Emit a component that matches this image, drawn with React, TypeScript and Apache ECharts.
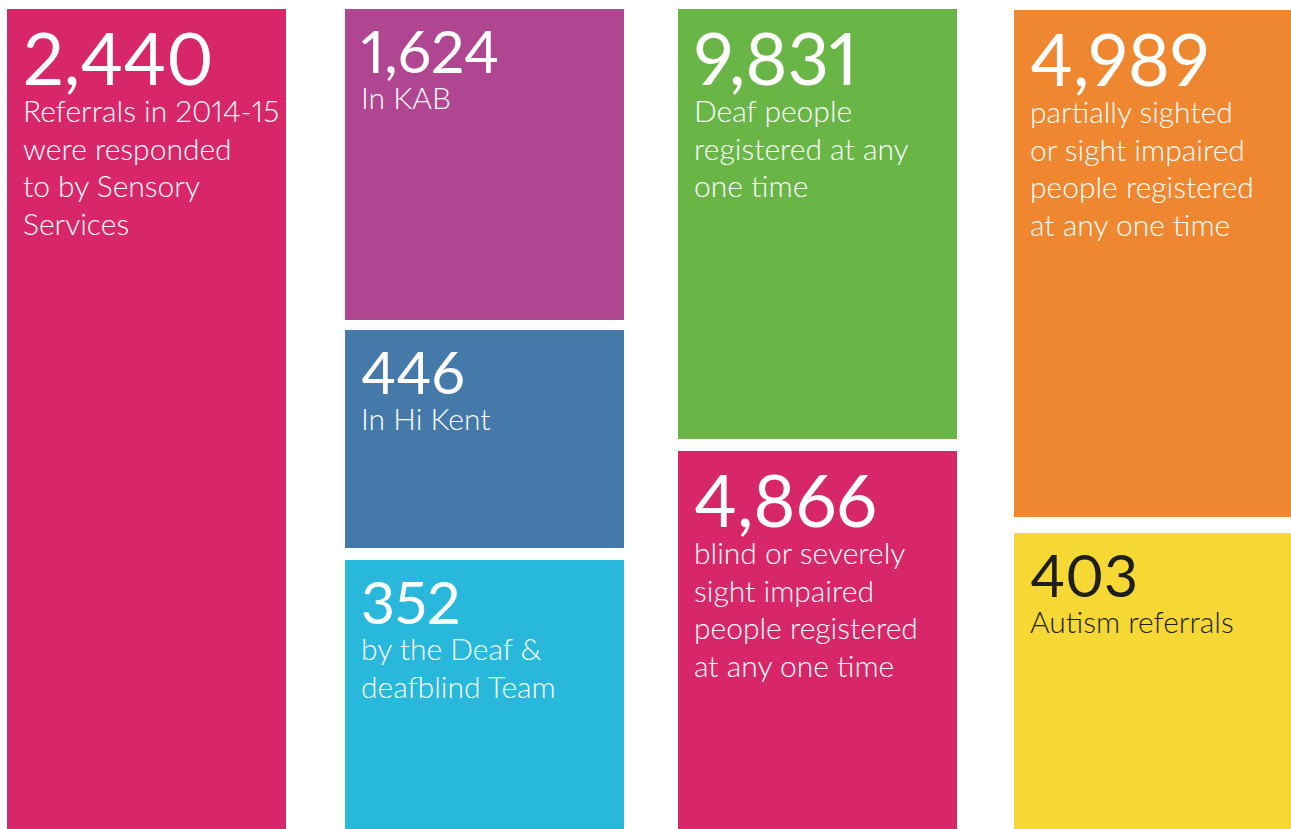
import React, { useEffect, useRef } from "react";
import * as echarts from "echarts";

// ---- data ----
const numbers = ["2,440", "1,624", "446", "352", "9,831", "4,866", "4,989", "403"];
const captions: string[][] = [
  ["Referrals in 2014-15", "were responded", "to by Sensory", "Services"],
  ["In KAB"],
  ["In Hi Kent"],
  ["by the Deaf &", "deafblind Team"],
  ["Deaf people", "registered at any", "one time"],
  ["blind or severely", "sight impaired", "people registered", "at any one time"],
  ["partially sighted", "or sight impaired", "people registered", "at any one time"],
  ["Autism referrals"],
];

// ---- layout (page units) ----
const colLeft = [7, 345, 678, 1014];
const colRight = [286, 624, 957, 1291];
const tileCol = [0, 1, 1, 1, 2, 2, 3, 3];
const tileTop = [9, 9, 330, 560, 9, 451, 10, 533];
const tileBottom = [829, 320, 548, 829, 439, 829, 517, 829];

// ---- styles ----
const tileColors = ["#D82768", "#B04591", "#4479AA", "#27B8DC", "#69B647", "#D82768", "#EF8730", "#F5D833"];
const textColors = ["#fff", "#fff", "#fff", "#fff", "#fff", "#fff", "#fff", "#1E1E1E"];
const FONT = "Lato, 'Open Sans', sans-serif";

export default function App() {
  const ref = useRef<HTMLDivElement>(null);
  useEffect(() => {
    if (!ref.current) return;
    const chart = echarts.init(ref.current, undefined, { renderer: "svg" });
    const data = numbers.map((_, i) => [
      colLeft[tileCol[i]],
      tileTop[i],
      colRight[tileCol[i]],
      tileBottom[i],
      i,
    ]);
    chart.setOption({
      animation: false,
      grid: { left: 0, right: 0, top: 0, bottom: 0 },
      xAxis: { type: "value", min: 0, max: 1291, show: false },
      yAxis: { type: "value", min: 0, max: 829, inverse: true, show: false },
      series: [
        {
          type: "custom",
          silent: true,
          data,
          renderItem: (params: any, api: any) => {
            const p0 = api.coord([api.value(0), api.value(1)]);
            const p1 = api.coord([api.value(2), api.value(3)]);
            const i = api.value(4);
            const h = p1[1] - p0[1];
            const big = h > 340;
            const numSize = big ? 72 : 59;
            const capSize = 30;
            const numBaseline = p0[1] + (big ? 76 : 64);
            const capBaseline = p0[1] + (big ? 113 : 100);
            const lh = 37.4;
            const tx = p0[0] + 16;
            const children: any[] = [
              {
                type: "rect",
                shape: { x: p0[0], y: p0[1], width: p1[0] - p0[0], height: h },
                style: { fill: tileColors[i] },
              },
              {
                type: "text",
                x: tx,
                y: numBaseline - 0.387 * numSize,
                style: {
                  text: numbers[i],
                  fill: textColors[i],
                  fontSize: numSize,
                  fontFamily: FONT,
                  fontWeight: 400,
                  align: "left",
                  verticalAlign: "middle",
                },
              },
            ];
            captions[i].forEach((line, k) => {
              children.push({
                type: "text",
                x: tx,
                y: capBaseline + k * lh - 0.387 * capSize,
                style: {
                  text: line,
                  fill: textColors[i],
                  fontSize: capSize,
                  fontFamily: FONT,
                  fontWeight: 300,
                  align: "left",
                  verticalAlign: "middle",
                },
              });
            });
            return { type: "group", children };
          },
        },
      ],
    });
    return () => chart.dispose();
  }, []);
  return (
    <>
      <style>{"svg text { font-variant-numeric: proportional-nums; font-feature-settings: 'pnum' 1; }"}</style>
      <div
        ref={ref}
        style={{ position: "fixed", left: 0, top: 0, width: 1291, height: 829, background: "#fff" }}
      />
    </>
  );
}
